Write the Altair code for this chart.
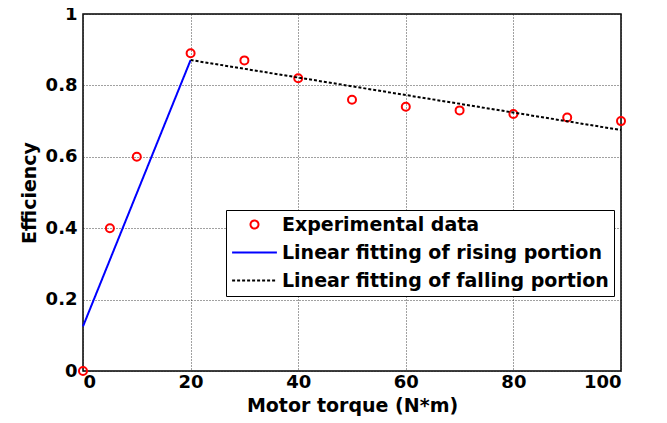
import altair as alt
import pandas as pd

# Experimental data
torque = [0, 5, 10, 20, 30, 40, 50, 60, 70, 80, 90, 100]
efficiency = [0.0, 0.40, 0.60, 0.89, 0.87, 0.82, 0.76, 0.74, 0.73, 0.72, 0.71, 0.70]

# Linear fits
rise_x = [0, 20]
rise_y = [0.125, 0.871]
fall_x = [20, 100]
fall_y = [0.871, 0.675]

series = ["Experimental data", "Linear fitting of rising portion", "Linear fitting of falling portion"]
colors = ["#ff0000", "#0000ff", "#000000"]

pts = pd.DataFrame({"x": torque, "y": efficiency, "s": series[0]})
lines = pd.concat([
    pd.DataFrame({"x": rise_x, "y": rise_y, "s": series[1], "o": [0, 1]}),
    pd.DataFrame({"x": fall_x, "y": fall_y, "s": series[2], "o": [0, 1]}),
])

FONT = "DejaVu Sans"
line_path = "M-5.6,0L5.6,0"

xenc = alt.X("x:Q", scale=alt.Scale(domain=[0, 100], nice=False),
             axis=alt.Axis(values=[0, 20, 40, 60, 80, 100], format="d",
                           title="Motor torque (N*m)"))
yenc = alt.Y("y:Q", scale=alt.Scale(domain=[0, 1], nice=False),
             axis=alt.Axis(values=[0, 0.2, 0.4, 0.6, 0.8, 1], format="~g",
                           title="Efficiency"))

color = alt.Color("s:N", scale=alt.Scale(domain=series, range=colors),
                  legend=alt.Legend(title=None))
shape = alt.Shape("s:N", scale=alt.Scale(domain=series, range=["circle", line_path, line_path]),
                  legend=alt.Legend(title=None))
dash = alt.StrokeDash("s:N", scale=alt.Scale(domain=series, range=[[1, 0], [1, 0], [3, 2]]),
                      legend=alt.Legend(title=None))

line_layer = alt.Chart(lines).mark_line(strokeWidth=2).encode(
    x=xenc, y=yenc, color=color, strokeDash=dash, order="o:Q", detail="s:N"
)
point_layer = alt.Chart(pts).mark_point(filled=False, size=64, strokeWidth=2, opacity=1).encode(
    x=xenc, y=yenc, color=color, shape=shape
)

chart = alt.layer(point_layer, line_layer).properties(
    width=538, height=357,
    autosize=alt.AutoSizeParams(type="none"),
    padding={"left": 75, "top": 6, "right": 30, "bottom": 50},
).configure_view(
    stroke="#000", strokeWidth=1.5
).configure_axis(
    grid=True, gridColor="#222", gridDash=[1, 2], gridWidth=1, gridOpacity=0.85,
    domain=False, ticks=False,
    labelFont=FONT, labelFontSize=18, labelFontWeight="bold", labelColor="#000",
    titleFont=FONT, titleFontSize=19, titleFontWeight="bold", titleColor="#000",
).configure_axisX(
    labelPadding=2, titlePadding=5
).configure_axisY(
    labelPadding=6, titlePadding=6
).configure_legend(
    orient="none", legendX=143, legendY=196,
    fillColor="#fff", strokeColor="#000", padding=5, cornerRadius=0,
    labelFont=FONT, labelFontSize=19, labelFontWeight="bold", labelColor="#000",
    symbolSize=64, symbolStrokeWidth=2, labelOffset=18, symbolOffset=14, rowPadding=8,
    labelLimit=400,
)

chart.save("out.html", embed_options={"renderer": "svg", "actions": False})
